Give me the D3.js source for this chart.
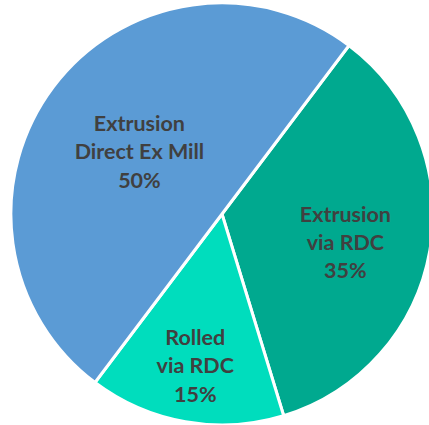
<!DOCTYPE html>
<html>
<head>
<meta charset="utf-8">
<script src="https://cdn.jsdelivr.net/npm/d3@7"></script>
<style>
  body { margin: 0; background: #fff; }
  svg { display: block; }
</style>
</head>
<body>
<div id="chart"></div>
<script>
// data
var categories = ["Extrusion via RDC", "Rolled via RDC", "Extrusion Direct Ex Mill"];
var labelLines = [["Extrusion", "via RDC"], ["Rolled", "via RDC"], ["Extrusion", "Direct Ex Mill"]];
var shares = [35, 15, 50];
var colors = ["#00A98F", "#00DDBD", "#5B9BD5"];

var width = 429, height = 425;
var cx = 222, cy = 214, radius = 211;
// where each label sits: share of the radius, and a small angle nudge (deg)
var labelPos = [0.6, 0.73, 0.49];
var labelNudge = [3, 0, 0];

var svg = d3.select("#chart").append("svg")
  .attr("width", width)
  .attr("height", height);

var g = svg.append("g")
  .attr("transform", "translate(" + cx + "," + cy + ")");

var start = 37 * Math.PI / 180;
var pie = d3.pie()
  .sort(null)
  .value(function (d) { return d; })
  .startAngle(start)
  .endAngle(start + 2 * Math.PI);

var arcs = pie(shares);

var arc = d3.arc().innerRadius(0).outerRadius(radius);

g.selectAll("path.slice")
  .data(arcs)
  .enter().append("path")
  .attr("class", "slice")
  .attr("d", arc)
  .attr("fill", function (d, i) { return colors[i]; })
  .attr("stroke", "#fff")
  .attr("stroke-width", 3)
  .attr("stroke-linejoin", "miter");

var labels = g.selectAll("text.label")
  .data(arcs)
  .enter().append("text")
  .attr("class", "label")
  .attr("text-anchor", "middle")
  .attr("font-family", "Lato, 'Open Sans', sans-serif")
  .attr("font-weight", "bold")
  .attr("font-size", 21.5)
  .attr("fill", "#404040")
  .attr("transform", function (d, i) {
    var r = radius * labelPos[i];
    var a = (d.startAngle + d.endAngle) / 2 + labelNudge[i] * Math.PI / 180;
    return "translate(" + (r * Math.sin(a)) + "," + (-r * Math.cos(a)) + ")";
  });

labels.each(function (d, i) {
  var t = d3.select(this);
  var lines = labelLines[i].concat([shares[i] + "%"]);
  var lh = 28.5;
  lines.forEach(function (s, k) {
    t.append("tspan")
      .attr("x", 0)
      .attr("y", (k - (lines.length - 1) / 2) * lh)
      .attr("dy", "0.35em")
      .text(s);
  });
});
</script>
</body>
</html>
